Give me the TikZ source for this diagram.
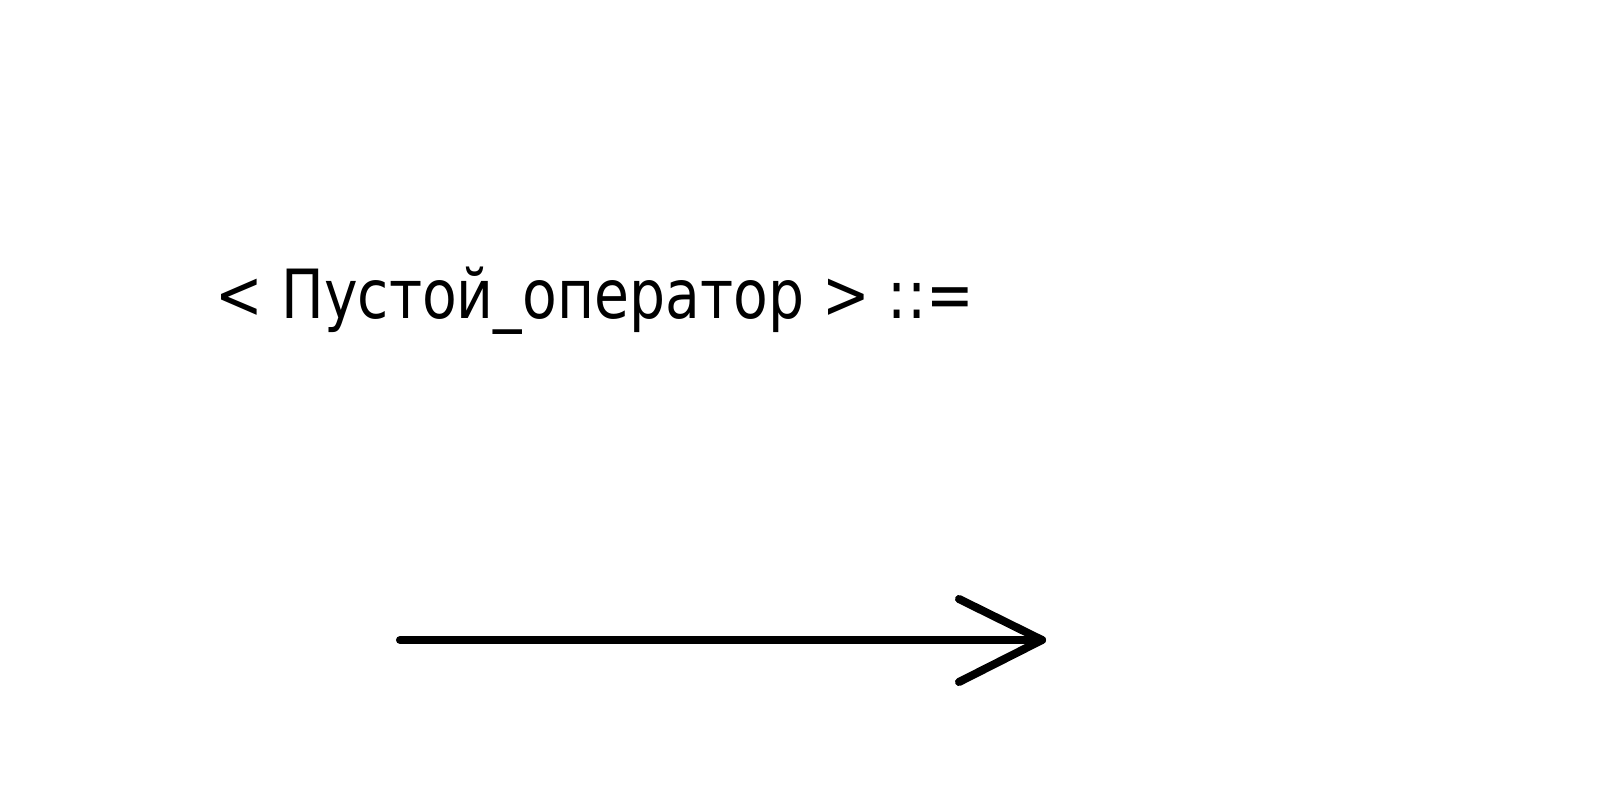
\documentclass[tikz,border=0pt]{standalone}
\usepackage{fontspec}
\setmainfont{DejaVu Sans}
\usepackage{graphicx}
\tikzset{
  rule/.style={font=\fontsize{19.3}{22}\selectfont, inner sep=0pt, anchor=base west, text=black},
  arrowline/.style={line width=2.3pt, line cap=round, line join=round, black}
}
\begin{document}
\begin{tikzpicture}
\fill[white] (0,0) rectangle (16,8);
\useasboundingbox (0,0) rectangle (16,8);
\node[rule] (head) at (2.15,4.81) {\resizebox{7.58cm}{\height}{< Пустой\_оператор > ::=}};
\coordinate (start) at (4.00,1.60);
\coordinate (tip) at (10.42,1.60);
\coordinate (armU) at (9.59,2.01);
\coordinate (armL) at (9.59,1.18);
\draw[arrowline] (start) -- (tip);
\draw[arrowline] (armU) -- (tip) -- (armL);
\end{tikzpicture}
\end{document}
